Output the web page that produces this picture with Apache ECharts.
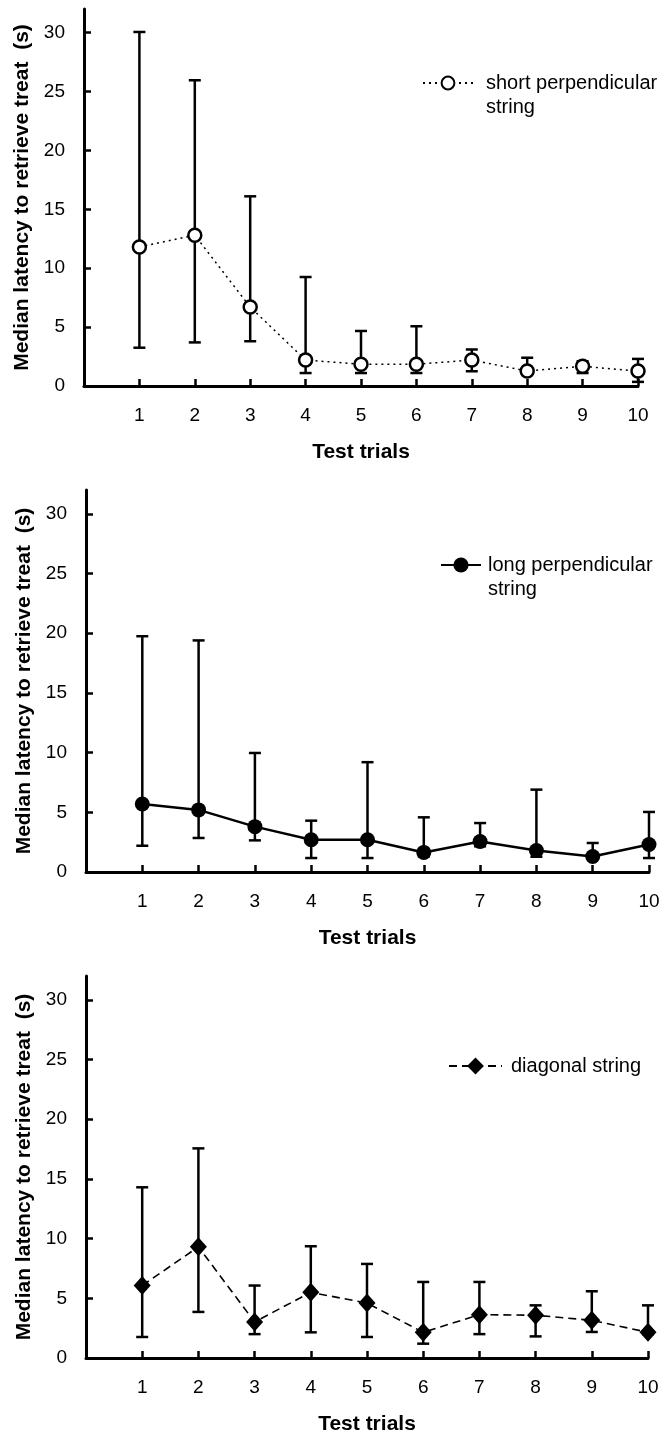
<!DOCTYPE html>
<html>
<head>
<meta charset="utf-8">
<script src="https://cdn.jsdelivr.net/npm/echarts@6/dist/echarts.min.js"></script>
<style>
html,body{margin:0;padding:0;background:#fff;}
#c{width:665px;height:1437px;}
</style>
</head>
<body>
<div id="c"></div>
<script>
const trials = [1, 2, 3, 4, 5, 6, 7, 8, 9, 10];
const yTicks = [0, 5, 10, 15, 20, 25, 30];

const shortName = 'short perpendicular\nstring';
const shortMed = [11.8, 12.8, 6.7, 2.2, 1.85, 1.85, 2.2, 1.27, 1.67, 1.27];
const shortLo  = [3.25, 3.7, 3.8, 1.1, 1.1, 1.1, 1.25, 1.1, 1.1, 0.35];
const shortHi  = [30.05, 25.95, 16.1, 9.25, 4.67, 5.07, 3.1, 2.4, 2.1, 2.3];

const longName = 'long perpendicular\nstring';
const longMed = [5.7, 5.2, 3.8, 2.7, 2.7, 1.64, 2.56, 1.8, 1.3, 2.3];
const longLo  = [2.2, 2.85, 2.65, 1.17, 1.17, 1.3, 2.15, 1.28, 1.1, 1.17];
const longHi  = [19.75, 19.4, 9.97, 4.3, 9.2, 4.58, 4.1, 6.9, 2.43, 5.03];

const diagName = 'diagonal string';
const diagMed = [6.07, 9.31, 3.02, 5.5, 4.6, 2.15, 3.63, 3.58, 3.16, 2.15];
const diagLo  = [1.76, 3.86, 2.0, 2.15, 1.76, 1.2, 2.0, 1.81, 2.18, 2.0];
const diagHi  = [14.3, 17.56, 6.07, 9.36, 7.88, 6.37, 6.37, 4.41, 5.59, 4.41];

const FONT = '"Liberation Sans", Arial, sans-serif';

const grids = [
  {left: 84, width: 554, top: 9, height: 377},
  {left: 86, width: 563, top: 490, height: 382},
  {left: 86, width: 562, top: 976, height: 382}
];

function xAxis(i) {
  return {
    type: 'value', gridIndex: i, min: 0, max: 10, interval: 1,
    name: 'Test trials', nameLocation: 'middle', nameGap: 56,
    nameTextStyle: {fontFamily: FONT, fontSize: 21, fontWeight: 'bold', color: '#000'},
    axisLine: {lineStyle: {color: '#000', width: 3}},
    axisTick: {inside: true, length: 7, lineStyle: {color: '#000', width: 2.5}, customValues: trials},
    axisLabel: {margin: 20, fontFamily: FONT, fontSize: 19, color: '#000', customValues: trials},
    splitLine: {show: false}
  };
}
function yAxis(i) {
  return {
    type: 'value', gridIndex: i, min: 0, max: 32, interval: 5,
    name: 'Median latency to retrieve treat  (s)', nameLocation: 'middle', nameGap: 49,
    nameTextStyle: {fontFamily: FONT, fontSize: 21, fontWeight: 'bold', color: '#000'},
    axisLine: {show: true, lineStyle: {color: '#000', width: 3}},
    axisTick: {show: true, inside: true, length: 7, lineStyle: {color: '#000', width: 2.5}, customValues: yTicks},
    axisLabel: {margin: 19, fontFamily: FONT, fontSize: 19, color: '#000', customValues: yTicks},
    splitLine: {show: false}
  };
}

function errSeries(i, lo, hi) {
  return {
    type: 'custom', xAxisIndex: i, yAxisIndex: i, z: 1, silent: true,
    data: trials.map((t, k) => [t, lo[k], hi[k]]),
    encode: {x: 0, y: [1, 2]},
    renderItem: function (params, api) {
      const x = api.value(0);
      const a = api.coord([x, api.value(1)]);
      const b = api.coord([x, api.value(2)]);
      const w = 6;
      const st = {stroke: '#000', lineWidth: 2.5};
      return {type: 'group', children: [
        {type: 'line', shape: {x1: a[0], y1: a[1], x2: b[0], y2: b[1]}, style: st},
        {type: 'line', shape: {x1: a[0] - w, y1: a[1], x2: a[0] + w, y2: a[1]}, style: st},
        {type: 'line', shape: {x1: b[0] - w, y1: b[1], x2: b[0] + w, y2: b[1]}, style: st}
      ]};
    }
  };
}

function lineSeries(i, name, med, opts) {
  return Object.assign({
    type: 'line', name: name, xAxisIndex: i, yAxisIndex: i, z: 3,
    data: trials.map((t, k) => [t, med[k]]),
    animation: false
  }, opts);
}

const twoLine = function (name) { return ' \n' + name; };

const option = {
  animation: false,
  backgroundColor: '#fff',
  grid: grids,
  xAxis: [xAxis(0), xAxis(1), xAxis(2)],
  yAxis: [yAxis(0), yAxis(1), yAxis(2)],
  legend: [
    {data: [shortName], left: 422, top: 47, padding: 0, itemWidth: 50, itemHeight: 16,
     formatter: twoLine,
     textStyle: {fontFamily: FONT, fontSize: 20, color: '#000', lineHeight: 24, padding: [0, 0, 0, 8]}},
    {data: [longName], left: 440, top: 529, padding: 0, itemWidth: 40, itemHeight: 19,
     formatter: twoLine,
     textStyle: {fontFamily: FONT, fontSize: 20, color: '#000', lineHeight: 24, padding: [0, 0, 0, 2]}},
    {data: [diagName], left: 448, top: 1056, padding: 0, itemWidth: 53, itemHeight: 21,
     textStyle: {fontFamily: FONT, fontSize: 20, color: '#000', padding: [0, 0, 0, 4]}}
  ],
  series: [
    errSeries(0, shortLo, shortHi),
    lineSeries(0, shortName, shortMed, {
      symbol: 'circle', symbolSize: 13,
      itemStyle: {color: '#fff', borderColor: '#000', borderWidth: 2.5},
      lineStyle: {color: '#000', width: 1.5, type: [2, 4]}
    }),
    errSeries(1, longLo, longHi),
    lineSeries(1, longName, longMed, {
      symbol: 'circle', symbolSize: 15,
      itemStyle: {color: '#000', borderColor: '#000', borderWidth: 0},
      lineStyle: {color: '#000', width: 2.5, type: 'solid'}
    }),
    errSeries(2, diagLo, diagHi),
    lineSeries(2, diagName, diagMed, {
      symbol: 'diamond', symbolSize: [17, 19],
      itemStyle: {color: '#000', borderColor: '#000', borderWidth: 0},
      lineStyle: {color: '#000', width: 1.6, type: [8, 5]}
    })
  ]
};

const chart = echarts.init(document.getElementById('c'), null, {renderer: 'canvas'});
chart.setOption(option);
</script>
</body>
</html>
